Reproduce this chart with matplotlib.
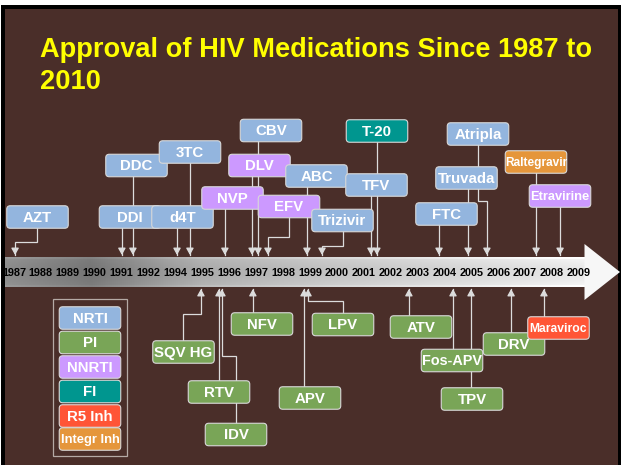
import matplotlib
matplotlib.use("Agg")
import matplotlib.pyplot as plt
import numpy as np
from matplotlib.patches import FancyBboxPatch, Rectangle, Polygon
from matplotlib import font_manager

# ---------------- data ----------------
title = "Approval of HIV Medications Since 1987 to\n2010"
year_labels = ["1987", "1988", "1989", "1990", "1991", "1992", "1994", "1995",
               "1996", "1997", "1998", "1999", "2000", "2001", "2002", "2003",
               "2004", "2005", "2006", "2007", "2008", "2009"]

class_names = ["NRTI", "PI", "NNRTI", "FI", "R5 Inh", "Integr Inh"]

drugs = ["AZT", "DDI", "DDC", "d4T", "3TC", "NVP", "DLV", "CBV", "EFV", "ABC",
         "Trizivir", "TFV", "T-20", "FTC", "Truvada", "Atripla", "Raltegravir",
         "Etravirine",
         "SQV HG", "RTV", "IDV", "NFV", "APV", "LPV", "ATV", "Fos-APV", "TPV",
         "DRV", "Maraviroc"]
drug_class = ["NRTI", "NRTI", "NRTI", "NRTI", "NRTI", "NNRTI", "NNRTI", "NRTI",
              "NNRTI", "NRTI", "NRTI", "NRTI", "FI", "NRTI", "NRTI", "NRTI",
              "Integr Inh", "NNRTI",
              "PI", "PI", "PI", "PI", "PI", "PI", "PI", "PI", "PI", "PI", "R5 Inh"]
# position of each arrow along the timeline (in year-label slots)
timeline_pos = [0.04, 4.01, 4.42, 6.06, 6.54, 7.84, 8.85, 9.07, 9.44, 10.89,
                11.45, 13.27, 13.49, 15.80, 16.88, 17.58, 19.41, 20.30,
                6.95, 7.62, 7.73, 8.88, 10.78, 10.93, 14.68, 16.32, 16.99,
                18.48, 19.70]

# ---------------- style / layout ----------------
class_colors = {"NRTI": "#93b5de", "PI": "#79a557", "NNRTI": "#cc99ff",
                "FI": "#00968f", "R5 Inh": "#ff5536", "Integr Inh": "#e5963b"}
BG = "#4a2e29"
LINE = "#dcdcdc"

W_PX, H_PX = 621, 465
X0, DX = 14.0, 26.9          # timeline slot 0 at 14px, one slot = 26.9px

def px(x):
    return (x - X0) / DX

box_layout = {
    "AZT": (37.5, 217), "DDI": (130, 217), "DDC": (136.5, 165.5),
    "d4T": (182.5, 217), "3TC": (190, 152), "NVP": (232.5, 198),
    "DLV": (259.5, 165.5), "CBV": (271, 130.5), "EFV": (289, 206.5),
    "ABC": (316.5, 176), "Trizivir": (342.5, 220.5), "TFV": (376.5, 185),
    "T-20": (377, 131), "FTC": (446.5, 214), "Truvada": (466.5, 178),
    "Atripla": (478, 134), "Raltegravir": (536, 162), "Etravirine": (560, 196),
    "SQV HG": (183.5, 352), "RTV": (219, 392), "IDV": (236, 434.5),
    "NFV": (262, 324), "APV": (310, 398), "LPV": (343, 324.5),
    "ATV": (421, 327), "Fos-APV": (452, 360.5), "TPV": (472, 399),
    "DRV": (514, 344), "Maraviroc": (558.5, 328),
}
# elbow connectors: (x of line leaving the box, y of the horizontal run)
elbows = {"AZT": (37, 242), "EFV": (289, 237), "Trizivir": (343, 246),
          "Atripla": (478, 201), "SQV HG": (183, 314), "IDV": (236, 356),
          "LPV": (343, 301)}
font_sizes = {"Raltegravir": 8.6, "Etravirine": 9.3, "Maraviroc": 8.7,
              "Integr Inh": 9.3, "Fos-APV": 10.4}
BOX_W, BOX_H = 61.5, 22.5
BAND_TOP, BAND_BOT = 257, 287
TIP_TOP, TIP_BOT = 255, 289

names_avail = {f.name for f in font_manager.fontManager.ttflist}
if "Liberation Sans Narrow" in names_avail:
    title_font, title_size = "Liberation Sans Narrow", 24
else:
    title_font, title_size = "Liberation Sans", 19.6
BOXFONT = ["Liberation Sans", "DejaVu Sans"]

fig = plt.figure(figsize=(W_PX / 100, H_PX / 100), dpi=100)
fig.patch.set_facecolor("white")
ax = fig.add_axes([0, 0, 1, 1])
ax.set_xlim(px(0), px(W_PX))
ax.set_ylim(H_PX, 0)
ax.axis("off")

# slide frame and background
ax.add_patch(Rectangle((px(1), 5), (W_PX - 1) / DX, H_PX - 5, facecolor="black",
                       edgecolor="none", zorder=0))
ax.add_patch(Rectangle((px(5), 9), (618 - 5) / DX, H_PX - 9, facecolor=BG,
                       edgecolor="none", zorder=0))

# title
ax.text(px(40), 37, title, color="#ffff00", fontsize=title_size,
        fontweight="bold", family=[title_font, "Liberation Sans"], ha="left",
        va="top", linespacing=1.3, zorder=5)

# timeline band with gradient
xs = np.linspace(5, 585, 300)
prof_x = np.interp(xs, [5, 90, 200, 330, 460, 585],
                   [0.58, 0.49, 0.71, 0.81, 0.89, 0.97])
ys = np.linspace(0, 1, 30)
prof_y = 1.0 - 0.06 * np.sin(np.pi * ys)
prof_y[:2] += 0.05
prof_y[-2:] += 0.04
grad = np.clip(np.outer(prof_y, prof_x), 0, 1)
ax.imshow(grad, cmap="gray", vmin=0, vmax=1, aspect="auto",
          extent=[px(5), px(585), BAND_BOT, BAND_TOP], zorder=1,
          interpolation="bilinear")
ax.add_patch(Polygon([(px(584.5), 244), (px(620), 272), (px(584.5), 300)],
                     closed=True, facecolor="#f7f7f7", edgecolor="none",
                     zorder=1))
ax.set_xlim(px(0), px(W_PX))
ax.set_ylim(H_PX, 0)

for i, lab in enumerate(year_labels):
    ax.text(i, 272.5, lab, ha="center", va="center", fontsize=7.8,
            fontweight="bold", family=BOXFONT, color="black", zorder=3)


def draw_box(cx, cy, label, color, fs):
    ax.add_patch(FancyBboxPatch((px(cx - BOX_W / 2), cy - BOX_H / 2),
                                BOX_W / DX, BOX_H,
                                boxstyle=f"round,pad=0,rounding_size={3.5 / DX}",
                                mutation_aspect=DX, facecolor=color,
                                edgecolor="#d8d8d8", lw=0.8, zorder=4))
    ax.text(px(cx), cy + 0.5, label, ha="center", va="center", color="white",
            fontsize=fs, fontweight="bold", family=BOXFONT, zorder=5)


# connectors + boxes
for name, cls, pos in zip(drugs, drug_class, timeline_pos):
    cx, cy = box_layout[name]
    above = cy < BAND_TOP
    tip = TIP_TOP if above else TIP_BOT
    if name in elbows:
        lx, ey = elbows[name]
        pts_x = [px(lx), px(lx), pos, pos]
        pts_y = [cy, ey, ey, tip]
    else:
        pts_x = [pos, pos]
        pts_y = [cy, tip]
    ax.plot(pts_x, pts_y, color=LINE, lw=0.9, zorder=2,
            solid_joinstyle="miter")
    back = tip - 6 if above else tip + 6
    ax.annotate("", xy=(pos, tip), xytext=(pos, back),
                arrowprops=dict(arrowstyle="-|>,head_length=0.5,head_width=0.28",
                                color=LINE, lw=0.9, mutation_scale=8,
                                shrinkA=0, shrinkB=0), zorder=3)

for name, cls in zip(drugs, drug_class):
    cx, cy = box_layout[name]
    draw_box(cx, cy, name, class_colors[cls], font_sizes.get(name, 10.8))

# legend
ax.add_patch(Rectangle((px(53), 299), 74 / DX, 157, facecolor="none",
                       edgecolor="#b5aaa5", lw=0.9, zorder=3))
legend_y = [318, 342.5, 367, 391.5, 416, 439]
for cname, ly in zip(class_names, legend_y):
    draw_box(90, ly, cname, class_colors[cname], font_sizes.get(cname, 10.8))

fig.savefig("out.png", dpi=100, facecolor=fig.get_facecolor())
